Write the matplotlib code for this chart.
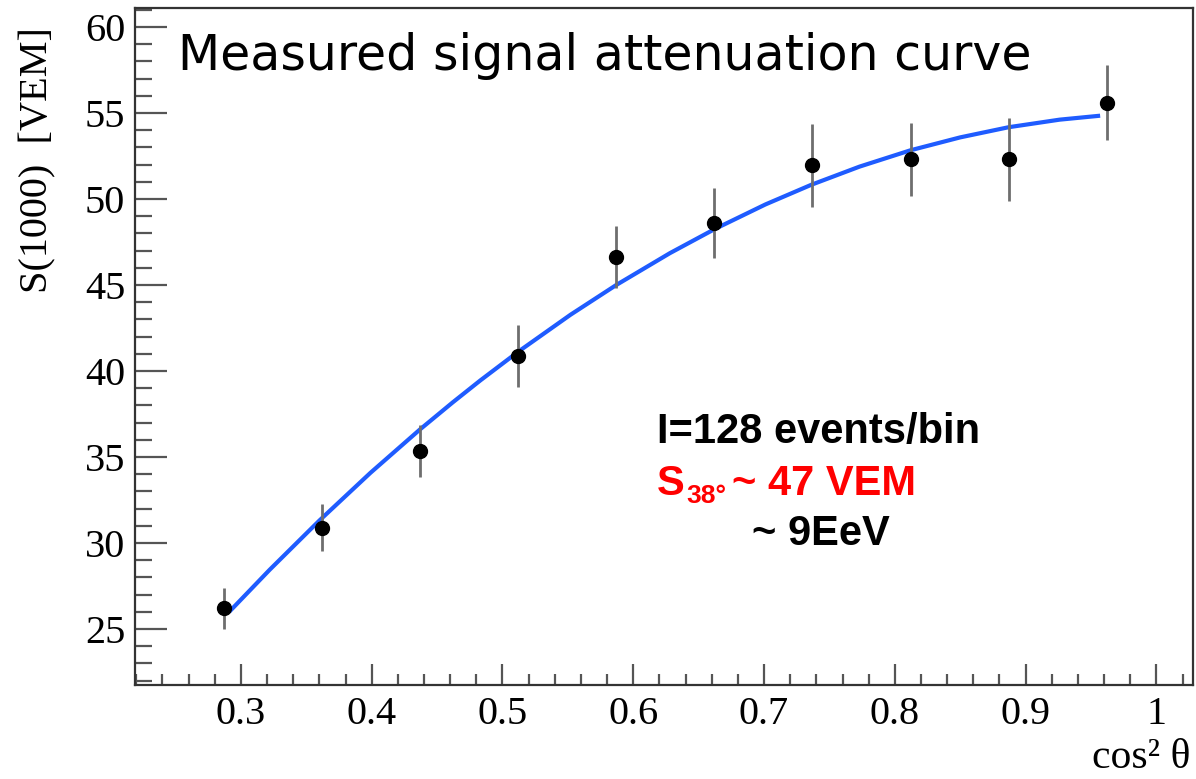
import matplotlib
matplotlib.use("Agg")
import matplotlib.pyplot as plt
from matplotlib.ticker import MultipleLocator

# ---- data ----
cos2 = [0.287, 0.362, 0.437, 0.512, 0.587, 0.662, 0.737, 0.812, 0.887, 0.962]
s1000 = [26.2, 30.9, 35.35, 40.85, 46.65, 48.6, 51.95, 52.3, 52.3, 55.6]
s_err = [1.2, 1.35, 1.5, 1.8, 1.8, 2.05, 2.4, 2.1, 2.4, 2.2]

# fitted attenuation curve
fit_x = [0.291, 0.322, 0.360, 0.399, 0.437, 0.462, 0.483, 0.512, 0.552, 0.587,
         0.628, 0.662, 0.701, 0.736, 0.773, 0.812, 0.850, 0.887, 0.926, 0.957]
fit_y = [26.00, 28.45, 31.31, 34.08, 36.61, 38.18, 39.45, 41.12, 43.27, 45.00,
         46.85, 48.24, 49.68, 50.82, 51.88, 52.83, 53.58, 54.17, 54.61, 54.84]

x_ticks = [0.3, 0.4, 0.5, 0.6, 0.7, 0.8, 0.9, 1.0]
x_ticklabels = ["0.3", "0.4", "0.5", "0.6", "0.7", "0.8", "0.9", "1"]
y_ticks = [25, 30, 35, 40, 45, 50, 55, 60]

W, H = 1196, 779
fig = plt.figure(figsize=(W / 100, H / 100), dpi=100)
ax = fig.add_axes([135 / W, 1 - 685 / H, (1193 - 135) / W, (685 - 8) / H])

serif = "Liberation Serif"
sans = "Liberation Sans"

ax.plot(fit_x, fit_y, color="#1f5cff", lw=3.0, solid_capstyle="butt",
        solid_joinstyle="round", zorder=2)
ax.errorbar(cos2, s1000, yerr=s_err, fmt="o", color="black", ms=10,
            ecolor="#6e6e6e", elinewidth=2.0, capsize=0, zorder=3)

ax.set_xlim(0.219, 1.028)
ax.set_ylim(21.75, 61.1)

ax.set_xticks(x_ticks)
ax.set_xticklabels(x_ticklabels)
ax.set_yticks(y_ticks)
ax.xaxis.set_minor_locator(MultipleLocator(0.02))
ax.yaxis.set_minor_locator(MultipleLocator(1))

ax.tick_params(axis="both", which="both", direction="in", colors="#555555",
               width=1.6, top=False, right=False)
ax.tick_params(axis="y", which="major", length=23, pad=7)
ax.tick_params(axis="y", which="minor", length=12)
ax.tick_params(axis="x", which="major", length=15, pad=8)
ax.tick_params(axis="x", which="minor", length=8)
for lab in ax.get_xticklabels() + ax.get_yticklabels():
    lab.set_fontfamily(serif)
    lab.set_fontsize(29)
    lab.set_color("black")

for sp in ax.spines.values():
    sp.set_color("#333333")
    sp.set_linewidth(1.6)

# axis labels
fig.text(38 / W, 1 - 160 / H, "S(1000)  [VEM]", rotation=90, ha="center",
         va="center", fontsize=29, family=serif)
fig.text(1190 / W, 1 - 768 / H, "cos\u00b2 \u03b8", ha="right", va="baseline",
         fontsize=30, family=serif)

# title inside plot
fig.text(178 / W, 1 - 70 / H, "Measured signal attenuation curve", ha="left",
         va="baseline", fontsize=35.3, family="DejaVu Sans")

# annotations
ax.text(0.618, 35.81, "I=128 events/bin", fontsize=30, fontweight="bold",
        family=sans, color="black", va="baseline", ha="left")
ax.text(0.618, 32.79, "S", fontsize=30, fontweight="bold", family=sans,
        color="#ff0000", va="baseline", ha="left")
ax.text(0.6405, 32.33, "38\u00b0", fontsize=19, fontweight="bold", family=sans,
        color="#ff0000", va="baseline", ha="left")
ax.text(0.6754, 32.79, "~ 47 VEM", fontsize=30, fontweight="bold", family=sans,
        color="#ff0000", va="baseline", ha="left")
ax.text(0.691, 29.88, "~ 9EeV", fontsize=30, fontweight="bold", family=sans,
        color="black", va="baseline", ha="left")

fig.savefig("out.png", dpi=100)
